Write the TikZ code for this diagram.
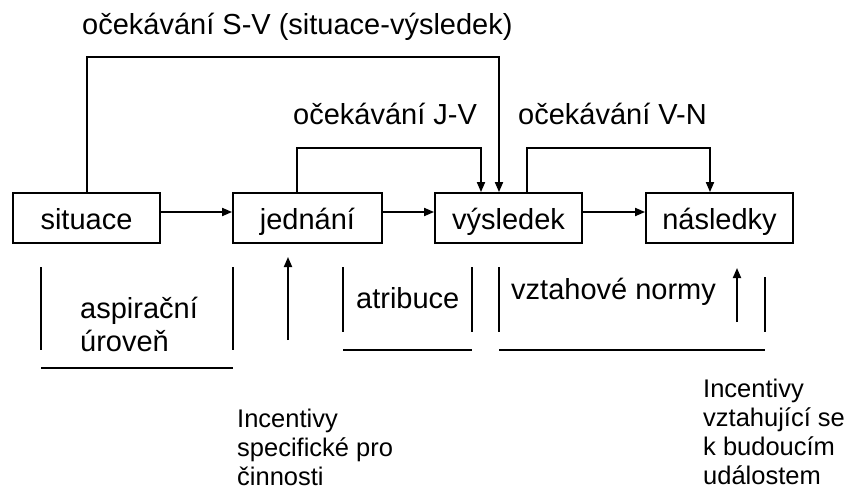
\documentclass[tikz,border=0pt]{standalone}
\usepackage{fontspec}
\setmainfont{Liberation Sans}
\usetikzlibrary{arrows.meta}
\begin{document}
\begin{tikzpicture}[x={(1pt,0pt)},y={(0pt,-1pt)},
  box/.style={draw,line width=1.8pt,minimum width=147pt,minimum height=50pt,inner sep=0pt,
    text height=22pt,text depth=0pt,font=\fontsize{29}{33}\selectfont},
  lbl/.style={inner sep=0pt,anchor=base west,font=\fontsize{29}{33}\selectfont},
  inc/.style={inner sep=0pt,anchor=base west,align=left,font=\fontsize{25.5}{29}\selectfont},
  ln/.style={line width=1.8pt},
  arr/.style={line width=1.8pt,-{Triangle[length=10pt,width=8pt]}}]
\fill[white] (0,0) rectangle (849,492);
\useasboundingbox (0,0) rectangle (849,492);
% boxes
\node[box] (sit) at (86.5,218) {situace};
\node[box,minimum width=149pt] (jed) at (307.5,218) {jednání};
\node[box] (vys) at (508.5,218) {výsledek};
\node[box] (nas) at (719.5,218) {následky};
% horizontal arrows
\draw[arr] ([yshift=6pt]sit.east) -- ([yshift=6pt]jed.west);
\draw[arr] ([yshift=6pt]jed.east) -- ([yshift=6pt]vys.west);
\draw[arr] ([yshift=6pt]vys.east) -- ([yshift=6pt]nas.west);
% top connectors
\coordinate (sv1) at (87,57);
\coordinate (sv2) at (499,57);
\coordinate (jv1) at (297,148);
\coordinate (jv2) at (481,148);
\coordinate (vn1) at (527,148);
\coordinate (vn2) at (710,148);
\draw[arr] (sv1 |- sit.north) -- (sv1) -- (sv2) -- (sv2 |- vys.north);
\draw[arr] (jv1 |- jed.north) -- (jv1) -- (jv2) -- (jv2 |- vys.north);
\draw[arr] (vn1 |- vys.north) -- (vn1) -- (vn2) -- (vn2 |- nas.north);
% labels
\node[lbl] (sv) at (82,35) {očekávání S-V (situace-výsledek)};
\node[lbl] (jv) at (293,125) {očekávání J-V};
\node[lbl] (vn) at (518,125) {očekávání V-N};
\node[lbl,align=left] (asp) at (80,351) {aspirační\\úroveň};
\node[lbl] (atr) at (356,308) {atribuce};
\node[lbl] (vzt) at (511,299) {vztahové normy};
\node[inc] (inc1) at (237,485) {Incentivy\\specifické pro\\činnosti};
\node[inc] (inc2) at (703,484) {Incentivy\\vztahující se\\k budoucím\\událostem};
% brackets
\draw[ln] (41,267) -- (41,350);
\draw[ln] (233,267) -- (233,350);
\draw[ln] (41,368) -- (233,368);
\draw[ln] (343,267) -- (343,332);
\draw[ln] (472,267) -- (472,332);
\draw[ln] (343,350) -- (472,350);
\draw[ln] (499,267) -- (499,332);
\draw[ln] (765,277) -- (765,332);
\draw[ln] (499,350) -- (765,350);
% up arrows
\coordinate (u1s) at (288,340);
\coordinate (u1e) at (288,257);
\coordinate (u2s) at (737,322);
\coordinate (u2e) at (737,268);
\draw[arr] (u1s) -- (u1e);
\draw[arr] (u2s) -- (u2e);
\end{tikzpicture}
\end{document}
